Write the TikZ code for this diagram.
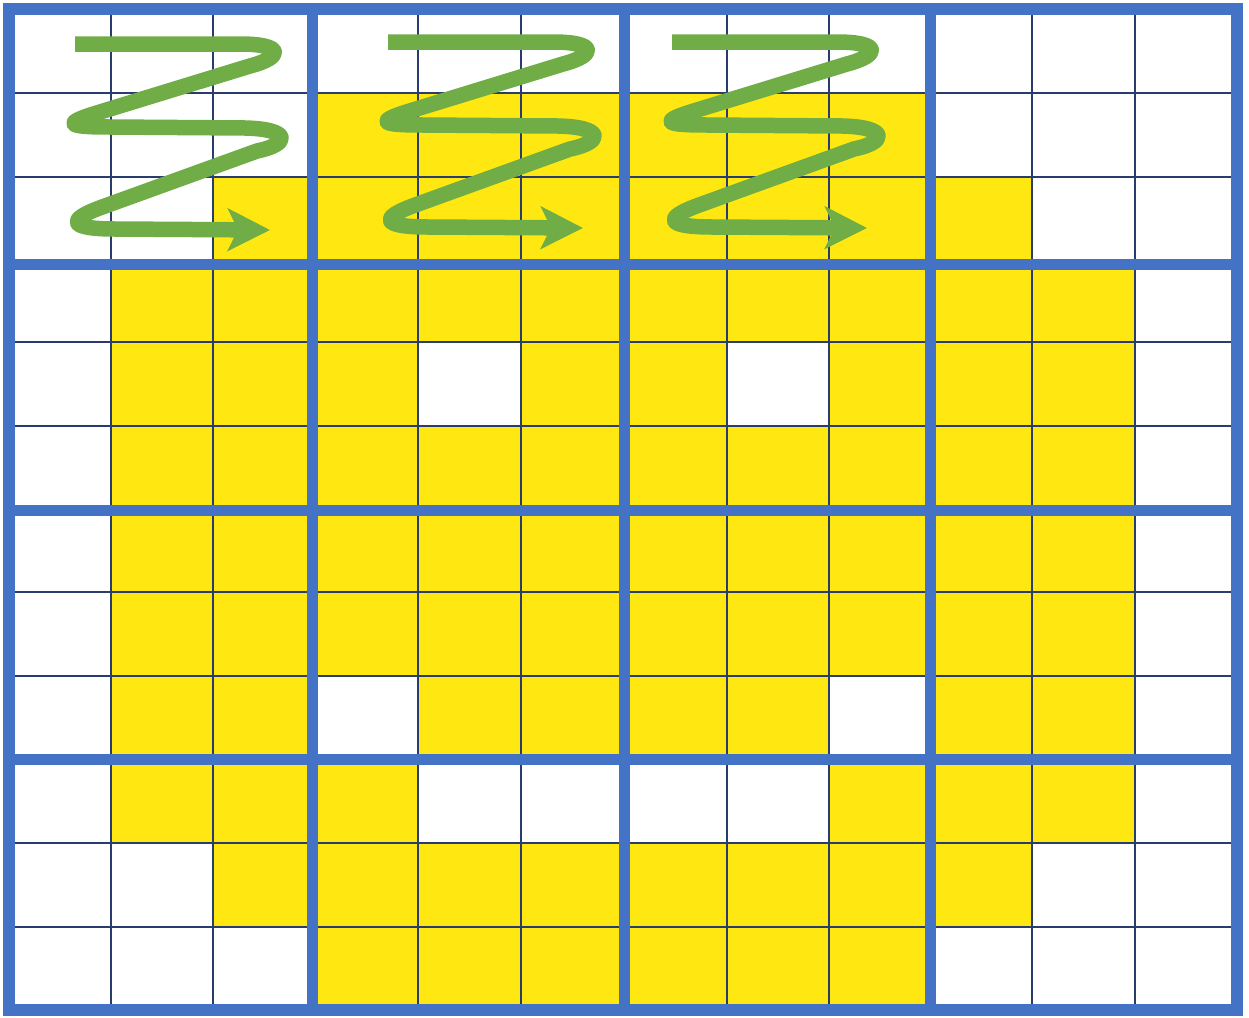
\documentclass[tikz,border=0pt]{standalone}
\usetikzlibrary{arrows.meta}
\definecolor{gridblue}{RGB}{68,114,196}
\definecolor{gridnavy}{RGB}{40,60,110}
\definecolor{fillyellow}{RGB}{255,232,18}
\definecolor{zigzaggreen}{RGB}{112,173,71}
\tikzset{
  thinline/.style={draw=gridnavy,line width=2pt},
  thickline/.style={draw=gridblue,line width=11pt},
  cell/.style={fill=fillyellow},
  zigstroke/.style={draw=zigzaggreen,line width=15.5pt,line join=round,
    -{Stealth[length=42pt,width=42pt,inset=10pt]}},
  zigpath/.pic={
    \draw[zigstroke] (75,44) -- (240,44)
      .. controls (284,44) and (284,57) .. (250,66)
      -- (100,112)
      .. controls (60,124) and (68,127) .. (110,127)
      -- (245,128)
      .. controls (291,129) and (291,144) .. (257,151)
      -- (105,206)
      .. controls (62,221) and (72,229) .. (115,229)
      -- (270,230);
  }
}
\begin{document}
\begin{tikzpicture}[x=1pt,y=-1pt]
\useasboundingbox (0,0) rectangle (1249,1017);
\fill[white] (0,0) rectangle (1249,1017);
% yellow cells (rows top to bottom)
% row 1
\fill[cell] (312,93) rectangle (930,177);
% row 2
\fill[cell] (213,177) rectangle (1032,264);
% row 3
\fill[cell] (111,264) rectangle (1135,342);
% row 4
\fill[cell] (111,342) rectangle (418,426);
\fill[cell] (521,342) rectangle (727,426);
\fill[cell] (829,342) rectangle (1135,426);
% rows 5-7
\fill[cell] (111,426) rectangle (1135,676);
% row 8
\fill[cell] (111,676) rectangle (312,759);
\fill[cell] (418,676) rectangle (829,759);
\fill[cell] (930,676) rectangle (1135,759);
% row 9
\fill[cell] (111,759) rectangle (418,843);
\fill[cell] (829,759) rectangle (1135,843);
% row 10
\fill[cell] (213,843) rectangle (1032,927);
% row 11
\fill[cell] (312,927) rectangle (930,1010);
% thin grid lines
\foreach \x in {111,213,418,521,727,829,1032,1135}
  \draw[thinline] (\x,9) -- (\x,1010);
\foreach \y in {93,177,342,426,592,676,843,927}
  \draw[thinline] (9,\y) -- (1237,\y);
% thick grid lines
\foreach \x in {312,624,930}
  \draw[thickline] (\x,9) -- (\x,1010);
\foreach \y in {264,510,759}
  \draw[thickline] (9,\y) -- (1237,\y);
\draw[thickline,line width=12pt] (9,9) rectangle (1237,1010);
% green zigzag arrows
\pic at (0,0) {zigpath};
\pic at (313,-2) {zigpath};
\pic at (597,-2) {zigpath};
\end{tikzpicture}
\end{document}
